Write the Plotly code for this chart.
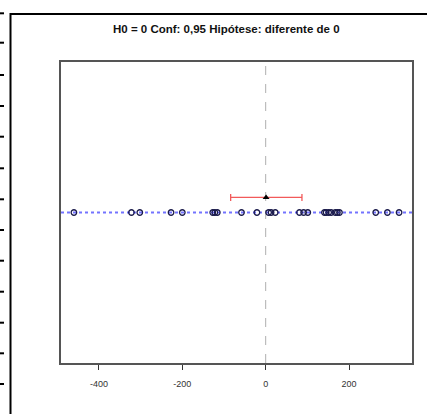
import plotly.graph_objects as go

# data
values = [-460, -322, -302, -227, -200, -127, -122, -116, -58, -21, 7, 13, 23,
          81, 91, 101, 141, 145, 151, 157, 167, 172, 177, 264, 292, 320]
h0 = 0
ci_low = -84
ci_high = 87
estimate = 1
title_text = "H0 = 0 Conf: 0,95 Hipótese: diferente de 0"
tick_vals = [-400, -200, 0, 200]
tick_text = ["-400", "-200", "0", "200"]

W, H = 427, 414
L, R, T, B = 61, 15, 62, 51
PW, PH = W - L - R, H - T - B


def px(x):
    return (x - L) / PW


def py(y):
    return (H - B - y) / PH


fig = go.Figure()

# points
fig.add_trace(go.Scatter(
    x=values, y=[0] * len(values), mode="markers",
    marker=dict(symbol="circle-open", size=5.5, color="#1a1a4a", line=dict(width=1.3)),
    hoverinfo="x", showlegend=False))

# confidence interval
fig.add_trace(go.Scatter(
    x=[estimate], y=[0.1], mode="markers",
    marker=dict(symbol="triangle-up", size=6, color="black"),
    error_x=dict(type="data", symmetric=False,
                 array=[ci_high - estimate], arrayminus=[estimate - ci_low],
                 color="#f25a5a", thickness=1.3, width=3.5),
    showlegend=False))

shapes = []
# blue dotted line
shapes.append(dict(type="line", xref="paper", yref="y", x0=0, x1=1, y0=0, y1=0,
                   line=dict(color="rgba(80,80,255,0.8)", width=2, dash="dot"), layer="below"))
# gray dashed vertical line at H0
shapes.append(dict(type="line", xref="x", yref="paper", x0=h0, x1=h0, y0=0, y1=1,
                   line=dict(color="#b0b0b0", width=1, dash="dash"), layer="below"))
# outer frame (screenshot artifact)
shapes.append(dict(type="line", xref="paper", yref="paper", x0=px(10), x1=px(428), y0=py(14), y1=py(14),
                   line=dict(color="black", width=2)))
shapes.append(dict(type="line", xref="paper", yref="paper", x0=px(10.5), x1=px(10.5), y0=py(13), y1=py(415),
                   line=dict(color="black", width=2)))
for yy in [13.3, 42.7, 75, 106, 136.7, 168.3, 199.3, 230, 260.7, 291.7, 322.7, 353.3, 384]:
    shapes.append(dict(type="line", xref="paper", yref="paper", x0=px(0), x1=px(4), y0=py(yy), y1=py(yy),
                       line=dict(color="black", width=2)))

fig.update_layout(
    width=W, height=H,
    margin=dict(l=L, r=R, t=T, b=B, pad=0),
    paper_bgcolor="white", plot_bgcolor="white",
    shapes=shapes,
    showlegend=False,
    annotations=[dict(text="<b>" + title_text + "</b>", xref="paper", yref="paper", x=px(226), y=py(29),
                      xanchor="center", yanchor="middle", showarrow=False,
                      font=dict(family="Liberation Sans", size=11.5, color="#111111"))],
    xaxis=dict(range=[-491, 351], tickvals=tick_vals, ticktext=tick_text,
               showgrid=False, zeroline=False, showline=True, mirror=True,
               linecolor="#555555", linewidth=1.5, ticks="outside", ticklen=5,
               tickcolor="#333333", tickwidth=1, ticklabelstandoff=6,
               tickfont=dict(family="Liberation Sans", size=9, color="#333333")),
    yaxis=dict(range=[-1, 1], showticklabels=False, ticks="", showgrid=False,
               zeroline=False, showline=True, mirror=True,
               linecolor="#555555", linewidth=1.5),
)

fig.write_html("out.html", config={"displayModeBar": False},
               post_script="document.body.style.margin='0';document.body.style.overflow='hidden';")
